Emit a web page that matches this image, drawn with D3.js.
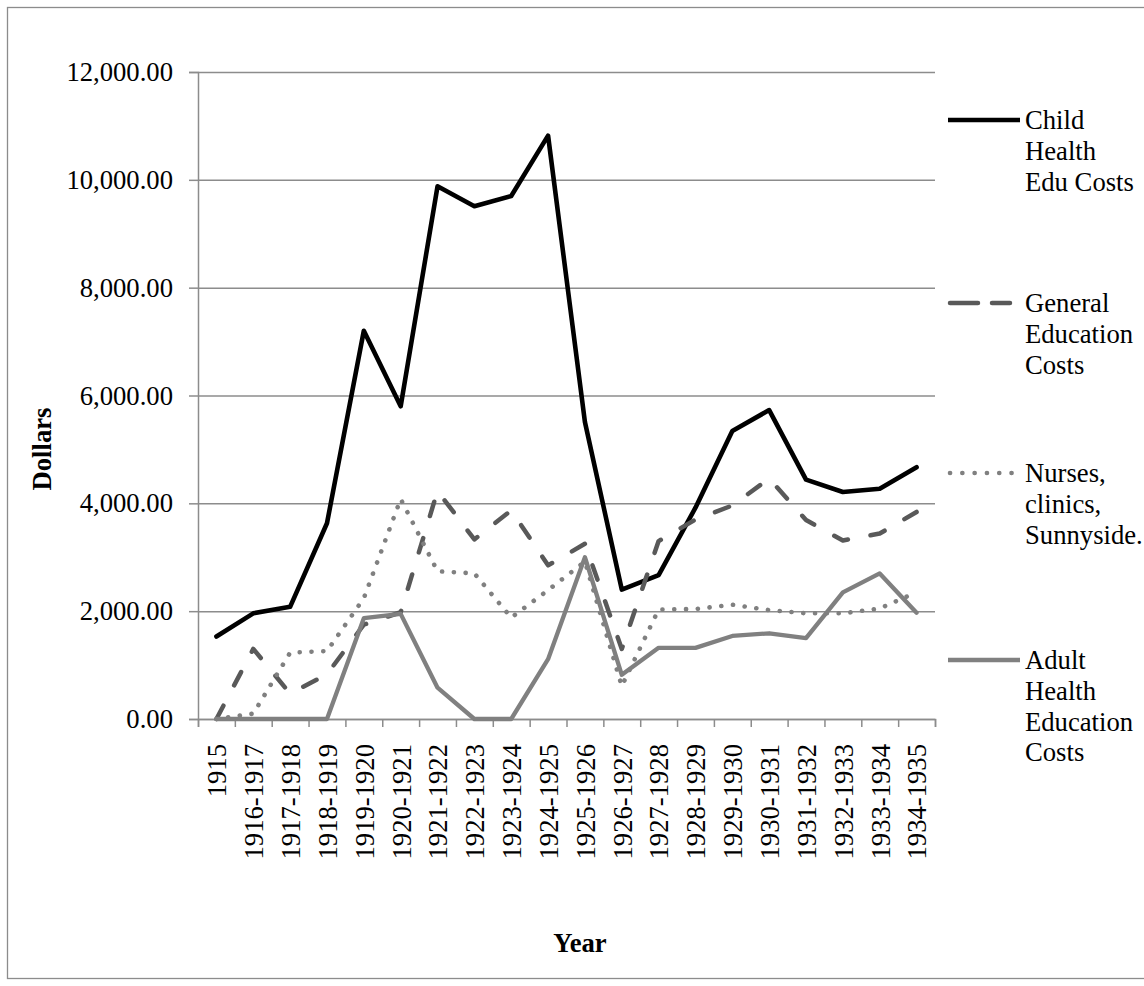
<!DOCTYPE html>
<html><head><meta charset="utf-8">
<script src="https://cdn.jsdelivr.net/npm/d3@7"></script>
<style>
body{margin:0;background:#fff}
svg{display:block}
text{font-family:"Liberation Serif","Times New Roman",serif;fill:#000}
</style>
</head><body>
<svg id="c" width="1144" height="986"></svg>
<script>
const categories = ["1915","1916-1917","1917-1918","1918-1919","1919-1920","1920-1921","1921-1922","1922-1923","1923-1924","1924-1925","1925-1926","1926-1927","1927-1928","1928-1929","1929-1930","1930-1931","1931-1932","1932-1933","1933-1934","1934-1935"];
const childHealth = [1530,1960,2080,3630,7200,5800,9880,9510,9700,10820,5510,2400,2670,3920,5340,5730,4440,4210,4270,4670];
const generalEdu  = [0,1300,470,830,1750,1980,4230,3330,3870,2850,3250,1300,3300,3700,3960,4460,3690,3310,3440,3840];
const nurses      = [0,100,1230,1260,2240,4080,2740,2700,1880,2390,2920,610,2030,2040,2120,2020,1960,1960,2050,2350];
const adultHealth = [0,0,0,0,1870,1950,580,0,0,1110,3000,820,1320,1320,1540,1590,1500,2350,2700,1970];
const yTicks = [0,2000,4000,6000,8000,10000,12000];
const seriesNames = [["Child","Health","Edu Costs"],["General","Education","Costs"],["Nurses,","clinics,","Sunnyside."],["Adult","Health","Education","Costs"]];

const m={l:198,r:935,t:72,b:719};
const FS=26.67;
const svg=d3.select("#c");
svg.append("rect").attr("x",7.5).attr("y",7.5).attr("width",1160).attr("height",971)
  .attr("fill","none").attr("stroke","#8c8c8c").attr("stroke-width",1.3);

const x=d3.scalePoint().domain(categories).range([m.l,m.r]).padding(0.5);
const xEdge=d3.scaleLinear().domain([0,categories.length]).range([m.l,m.r]);
const y=d3.scaleLinear().domain([0,12000]).range([m.b,m.t]);
const gridCol="#8c8c8c";

const grid=svg.append("g").attr("transform",`translate(${m.l},0)`)
  .call(d3.axisLeft(y).tickValues(yTicks).tickSize(-(m.r-m.l)).tickFormat(""));
grid.select(".domain").remove();
grid.selectAll("line").attr("stroke",gridCol).attr("stroke-width",1.5);

const ya=svg.append("g").attr("transform",`translate(${m.l},0)`)
  .call(d3.axisLeft(y).tickValues(yTicks).tickSize(9).tickPadding(16).tickFormat(d3.format(",.2f")));
ya.select(".domain").attr("stroke",gridCol).attr("stroke-width",1.5);
ya.selectAll("line").attr("stroke",gridCol).attr("stroke-width",1.5);
ya.selectAll("text").style("font-size",FS+"px").attr("fill","#000");

const xa=svg.append("g").attr("transform",`translate(0,${m.b})`)
  .call(d3.axisBottom(xEdge).tickValues(d3.range(categories.length+1)).tickSize(8).tickFormat(""));
xa.select(".domain").attr("stroke",gridCol).attr("stroke-width",1.5);
xa.selectAll("line").attr("stroke",gridCol).attr("stroke-width",1.5);

const xl=svg.append("g").attr("transform",`translate(0,${m.b})`)
  .call(d3.axisBottom(x).tickSize(0));
xl.select(".domain").remove();
xl.selectAll("text").style("font-size",FS+"px").attr("fill","#000")
  .attr("transform","rotate(-90)").attr("text-anchor","end")
  .attr("x",-25).attr("y",0).attr("dy","0.35em");

svg.append("text").attr("x",580).attr("y",952).attr("text-anchor","middle")
  .style("font-size",FS+"px").style("font-weight","bold").text("Year");
svg.append("text").attr("transform","translate(51,449) rotate(-90)").attr("text-anchor","middle")
  .style("font-size",FS+"px").style("font-weight","bold").text("Dollars");

const styles=[
  {data:childHealth,color:"#000000",dash:null,w:4.6,legDash:null,legCap:"butt",lx2:1020},
  {data:generalEdu,color:"#595959",dash:"15,23",w:4.5,legDash:"28,14",legCap:"round",lx2:1010},
  {data:nurses,color:"#808080",dash:"0.1,11.7",w:4.6,legDash:"0.1,12.2",legCap:"round",lx2:1012},
  {data:adultHealth,color:"#808080",dash:null,w:4.3,legDash:null,legCap:"butt",lx2:1020}
];
const line=d3.line().x((d,i)=>x(categories[i])).y(d=>y(d));
styles.forEach(s=>{
  svg.append("path").datum(s.data).attr("d",line).attr("fill","none")
    .attr("stroke",s.color).attr("stroke-width",s.w)
    .attr("stroke-linejoin","round").attr("stroke-linecap","round")
    .attr("stroke-dasharray",s.dash);
});

const legY=[120,303,473,660];
const LH=30.7;
styles.forEach((s,k)=>{
  const g=svg.append("g");
  g.append("line").attr("x1",s.legCap==="round"?950:948).attr("x2",s.lx2).attr("y1",legY[k]).attr("y2",legY[k])
    .attr("stroke",s.color).attr("stroke-width",s.w)
    .attr("stroke-linecap",s.legCap).attr("stroke-dasharray",s.legDash);
  seriesNames[k].forEach((t,j)=>{
    g.append("text").attr("x",1025).attr("y",legY[k]+j*LH).attr("dy","0.35em")
      .style("font-size",FS+"px").text(t);
  });
});
</script>
</body></html>
